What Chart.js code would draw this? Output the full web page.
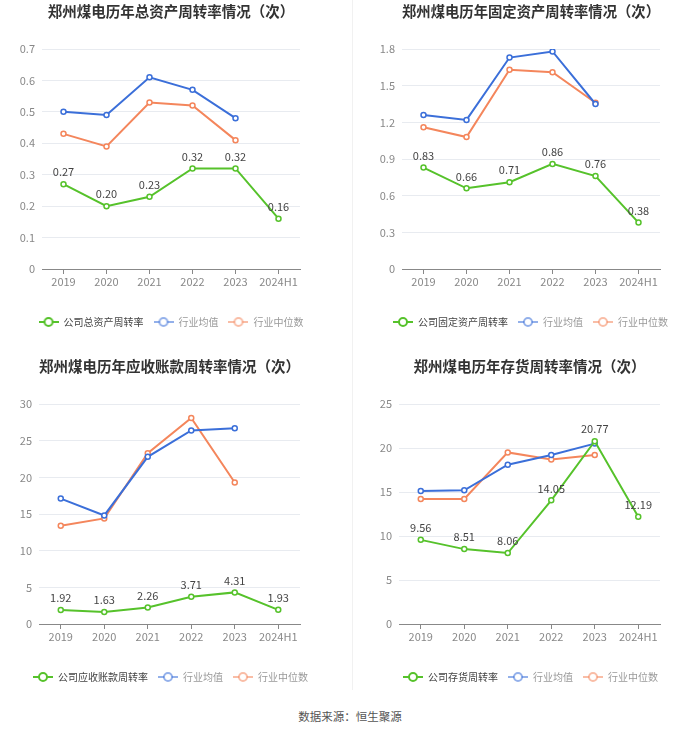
<!DOCTYPE html>
<html>
<head>
<meta charset="utf-8">
<script src="https://cdn.jsdelivr.net/npm/chart.js@4/dist/chart.umd.min.js"></script>
<style>
  body { margin: 0; background: #fff; width: 700px; height: 734px; position: relative; overflow: hidden; font-family: 'Noto Sans CJK SC', sans-serif; }
  canvas { position: absolute; }
  .divider { position: absolute; left: 352px; top: 0; width: 1px; height: 690px; background: #f1f1f1; }
  .source { position: absolute; left: 0; width: 700px; top: 708px; text-align: center; font-size: 11.5px; color: #555; }
</style>
</head>
<body>
<div class="divider"></div>
<canvas id="totalAssetChart" width="350" height="340" style="left:0;top:0"></canvas>
<canvas id="fixedAssetChart" width="350" height="340" style="left:350px;top:0"></canvas>
<canvas id="receivableChart" width="350" height="340" style="left:0;top:355px"></canvas>
<canvas id="inventoryChart" width="350" height="340" style="left:350px;top:355px"></canvas>
<div class="source">数据来源：恒生聚源</div>

<script>
const years = ['2019', '2020', '2021', '2022', '2023', '2024H1']
const industryLabels = ['行业均值', '行业中位数']

// 总资产周转率
const totalAssetCompany = [0.27, 0.20, 0.23, 0.32, 0.32, 0.16]
const totalAssetAvg = [0.50, 0.49, 0.61, 0.57, 0.48, null]
const totalAssetMedian = [0.43, 0.39, 0.53, 0.52, 0.41, null]

// 固定资产周转率
const fixedAssetCompany = [0.83, 0.66, 0.71, 0.86, 0.76, 0.38]
const fixedAssetAvg = [1.26, 1.22, 1.73, 1.78, 1.35, null]
const fixedAssetMedian = [1.16, 1.08, 1.63, 1.61, 1.36, null]

// 应收账款周转率
const receivableCompany = [1.92, 1.63, 2.26, 3.71, 4.31, 1.93]
const receivableAvg = [17.1, 14.8, 22.8, 26.4, 26.7, null]
const receivableMedian = [13.4, 14.4, 23.3, 28.1, 19.3, null]

// 存货周转率
const inventoryCompany = [9.56, 8.51, 8.06, 14.05, 20.77, 12.19]
const inventoryAvg = [15.1, 15.2, 18.1, 19.2, 20.5, null]
const inventoryMedian = [14.2, 14.2, 19.5, 18.7, 19.2, null]

const GREEN = '#56c22b'
const BLUE = '#3b6fd9'
const ORANGE = '#f4865c'
const FONT = "'Noto Sans CJK SC', sans-serif"

function legendIcon(color) {
  const c = document.createElement('canvas')
  c.width = 20
  c.height = 10
  const g = c.getContext('2d')
  g.strokeStyle = color
  g.lineWidth = 2
  g.beginPath()
  g.moveTo(0, 5)
  g.lineTo(20, 5)
  g.stroke()
  g.fillStyle = '#fff'
  g.beginPath()
  g.arc(10, 5, 4, 0, Math.PI * 2)
  g.fill()
  g.stroke()
  return c
}

const valueLabels = {
  id: 'valueLabels',
  afterDatasetsDraw(chart) {
    const meta = chart.getDatasetMeta(0)
    const values = chart.data.datasets[0].data
    const ctx = chart.ctx
    ctx.save()
    ctx.font = '11px ' + FONT
    ctx.fillStyle = '#444'
    ctx.textAlign = 'center'
    ctx.textBaseline = 'middle'
    meta.data.forEach((pt, i) => {
      ctx.fillText(values[i].toFixed(2), pt.x, pt.y - 12)
    })
    ctx.restore()
  }
}

function lineDataset(label, data, color) {
  return {
    label: label,
    data: data,
    borderColor: color,
    backgroundColor: '#fff',
    pointBackgroundColor: '#fff',
    pointBorderColor: color,
    pointBorderWidth: 1.5,
    pointRadius: 2.5,
    borderWidth: 2,
    tension: 0
  }
}

// box = [padLeft, yAxisWidth, rightSpace, padRight]
function createLineChart(id, title, companyLabel, series, yMax, yStep, box) {
  const ctx = document.getElementById(id).getContext('2d')
  const icons = [legendIcon(GREEN), legendIcon('rgba(59,111,217,0.55)'), legendIcon('rgba(244,134,92,0.55)')]
  const textColors = ['#444', '#999', '#999']

  new Chart(ctx, {
    type: 'line',
    data: {
      labels: years,
      datasets: [
        lineDataset(companyLabel, series[0], GREEN),
        lineDataset(industryLabels[0], series[1], BLUE),
        lineDataset(industryLabels[1], series[2], ORANGE)
      ]
    },
    options: {
      responsive: false,
      animation: false,
      layout: { padding: { left: box[0], right: box[3], top: 0, bottom: 3 } },
      font: { family: FONT },
      plugins: {
        title: {
          display: true,
          text: title,
          fullSize: false,
          color: '#333',
          font: { family: FONT, size: 14.5, weight: 'bold' },
          padding: { top: 3, bottom: 28.6 }
        },
        legend: {
          position: 'bottom',
          labels: {
            usePointStyle: true,
            pointStyleWidth: 20,
            boxHeight: 10,
            padding: 10,
            font: { family: FONT, size: 10 },
            generateLabels(chart) {
              const items = Chart.defaults.plugins.legend.labels.generateLabels(chart)
              items.forEach((item, i) => {
                item.pointStyle = icons[i]
                item.fontColor = textColors[i]
              })
              return items
            }
          }
        },
        tooltip: { enabled: false }
      },
      scales: {
        x: {
          offset: true,
          grid: { drawOnChartArea: false, drawTicks: true, tickLength: 5, color: '#888' },
          border: { color: '#888' },
          ticks: { color: '#888', padding: 1, maxRotation: 0, minRotation: 0, autoSkip: false, font: { family: FONT, size: 11 } },
          afterFit(scale) { scale.height = 38 }
        },
        y: {
          min: 0,
          max: yMax,
          border: { display: false },
          grid: { color: '#e8ebf0', drawTicks: false },
          ticks: { stepSize: yStep, color: '#888', padding: 7, font: { family: FONT, size: 11 } },
          afterFit(scale) { scale.width = box[1] }
        },
        spacer: {
          type: 'linear',
          position: 'right',
          display: true,
          border: { display: false },
          grid: { display: false },
          ticks: { display: false },
          afterFit(scale) { scale.width = box[2] }
        }
      }
    },
    plugins: [valueLabels]
  })
}

createLineChart('totalAssetChart', '郑州煤电历年总资产周转率情况（次）', '公司总资产周转率',
  [totalAssetCompany, totalAssetAvg, totalAssetMedian], 0.7, 0.1, [0, 42, 42, 8])
createLineChart('fixedAssetChart', '郑州煤电历年固定资产周转率情况（次）', '公司固定资产周转率',
  [fixedAssetCompany, fixedAssetAvg, fixedAssetMedian], 1.8, 0.3, [11, 41, 40, 0])
createLineChart('receivableChart', '郑州煤电历年应收账款周转率情况（次）', '公司应收账款周转率',
  [receivableCompany, receivableAvg, receivableMedian], 30, 5, [0, 39, 41, 9])
createLineChart('inventoryChart', '郑州煤电历年存货周转率情况（次）', '公司存货周转率',
  [inventoryCompany, inventoryAvg, inventoryMedian], 25, 5, [11, 38, 40, 0])
</script>
</body>
</html>
